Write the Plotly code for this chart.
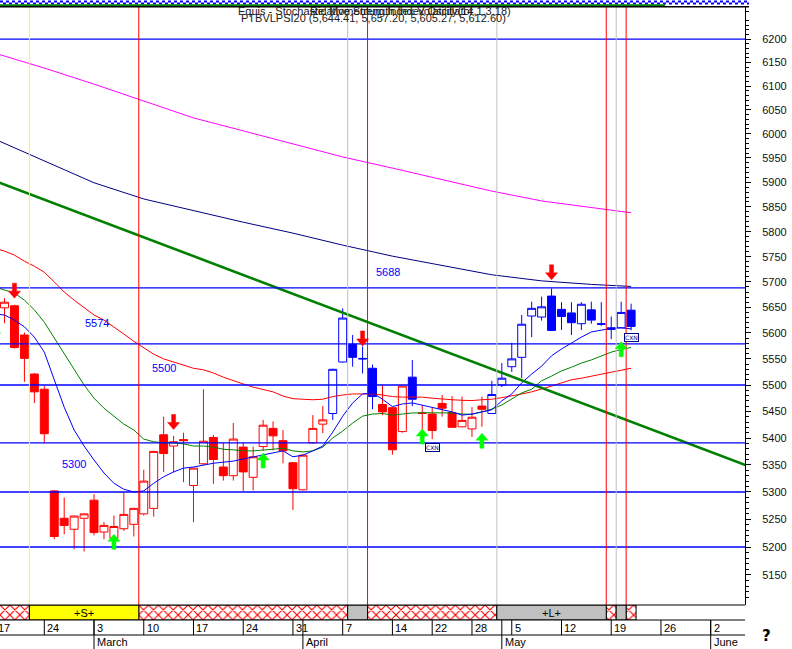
import numpy as np
import pandas as pd
import plotly.graph_objects as go

# ---------------- calendar (trading days, Euronext Lisbon 2003) ----------------
HOLIDAYS = ["2003-04-18", "2003-04-21", "2003-05-01"]
calendar = [d.strftime("%Y-%m-%d") for d in pd.bdate_range("2003-02-17", "2003-06-13")
            if d.strftime("%Y-%m-%d") not in HOLIDAYS]
day_index = {d: k - 5 for k, d in enumerate(calendar)}   # 2003-02-24 -> 0

# ---------------- candles ----------------
candle_dates = [
    "2003-02-18", "2003-02-19", "2003-02-20", "2003-02-21", "2003-02-24", "2003-02-25", "2003-02-26",
    "2003-02-27", "2003-02-28", "2003-03-03", "2003-03-04", "2003-03-05", "2003-03-06", "2003-03-07",
    "2003-03-10", "2003-03-11", "2003-03-12", "2003-03-13", "2003-03-14", "2003-03-17", "2003-03-18",
    "2003-03-19", "2003-03-20", "2003-03-21", "2003-03-24", "2003-03-25", "2003-03-26", "2003-03-27",
    "2003-03-28", "2003-03-31", "2003-04-01", "2003-04-02", "2003-04-03", "2003-04-04", "2003-04-07",
    "2003-04-08", "2003-04-09", "2003-04-10", "2003-04-11", "2003-04-14", "2003-04-15", "2003-04-16",
    "2003-04-17", "2003-04-22", "2003-04-23", "2003-04-24", "2003-04-25", "2003-04-28", "2003-04-29",
    "2003-04-30", "2003-05-02", "2003-05-05", "2003-05-06", "2003-05-07", "2003-05-08", "2003-05-09",
    "2003-05-12", "2003-05-13", "2003-05-14", "2003-05-15", "2003-05-16", "2003-05-19", "2003-05-20",
    "2003-05-21",
]
opens = [5649, 5653, 5596, 5521, 5492, 5302, 5252, 5232, 5252, 5285, 5227, 5216, 5233, 5241,
         5260, 5270, 5406, 5385, 5397, 5312, 5352, 5401, 5346, 5330, 5383, 5327, 5384, 5418,
         5395, 5354, 5304, 5391, 5426, 5446, 5544, 5578, 5551, 5532, 5463, 5457, 5412, 5515,
         5447, 5445, 5465, 5448, 5421, 5417, 5460, 5446, 5500, 5535, 5553, 5633, 5631, 5672,
         5646, 5639, 5618, 5645, 5618, 5610, 5610, 5644.41]
highs = [5668, 5655, 5601, 5523, 5498, 5303, 5290, 5257, 5261, 5296, 5245, 5257, 5299, 5271,
         5341, 5376, 5440, 5404, 5410, 5345, 5492, 5406, 5391, 5428, 5392, 5384, 5434, 5431,
         5415, 5355, 5370, 5443, 5460, 5531, 5648, 5596, 5574, 5539, 5500, 5458, 5499, 5548,
         5462, 5457, 5481, 5479, 5478, 5458, 5478, 5508, 5542, 5581, 5635, 5661, 5671, 5687,
         5660, 5660, 5660, 5661, 5660, 5632, 5661, 5657.20]
lows = [5619, 5570, 5506, 5466, 5390, 5214, 5223, 5196, 5192, 5221, 5214, 5210, 5229, 5219,
        5257, 5255, 5337, 5336, 5318, 5245, 5350, 5315, 5321, 5321, 5302, 5303, 5376, 5377,
        5353, 5267, 5303, 5390, 5409, 5434, 5543, 5535, 5522, 5454, 5443, 5369, 5410, 5460,
        5415, 5398, 5440, 5420, 5420, 5402, 5421, 5446, 5496, 5525, 5513, 5592, 5624, 5604,
        5606, 5596, 5606, 5618, 5614, 5588, 5610, 5605.27]
closes = [5660, 5572, 5551, 5487, 5408, 5219, 5239, 5256, 5260, 5226, 5239, 5237, 5259, 5270,
          5320, 5375, 5371, 5393, 5395, 5344, 5394, 5360, 5330, 5398, 5337, 5365, 5424, 5404,
          5376, 5306, 5368, 5418, 5434, 5530, 5629, 5553, 5550, 5478, 5449, 5378, 5498, 5473,
          5446, 5414, 5456, 5420, 5433, 5439, 5454, 5482, 5513, 5550, 5617, 5648, 5651, 5605,
          5632, 5620, 5656, 5625, 5617, 5607, 5640, 5612.60]
candle_colors = (["red"] * 33 + ["blue"] * 5 + ["red"] * 3 + ["blue"] * 1 +
                 ["red"] * 7 + ["blue"] * 15)

# ---------------- moving averages ----------------
ma_dates = [d for d in calendar if d <= "2003-05-21"]          # Feb 17 .. May 21
ma_short_blue = [5637, 5635, 5625, 5612, 5592, 5563, 5510, 5458, 5415, 5385, 5359, 5335, 5316,
                 5305, 5300, 5302, 5316, 5328, 5337, 5344, 5346, 5350, 5353, 5355, 5357, 5361,
                 5365, 5368, 5372, 5376, 5365, 5368, 5376, 5385, 5411, 5441, 5466, 5483, 5485,
                 5473, 5459, 5464, 5466, 5462, 5457, 5454, 5449, 5443, 5445, 5449, 5453, 5470,
                 5483, 5504, 5521, 5536, 5556, 5569, 5581, 5592, 5602, 5606, 5609, 5610, 5608]
ma_mid_green = [5690, 5684, 5678, 5664, 5645, 5621, 5590, 5559, 5531, 5500, 5475, 5456, 5441,
                5426, 5415, 5398, 5393, 5391, 5391, 5389, 5385, 5385, 5383, 5379, 5378, 5376,
                5376, 5377, 5379, 5381, 5376, 5374, 5376, 5383, 5400, 5413, 5428, 5441, 5445,
                5446, 5443, 5445, 5447, 5447.5, 5447, 5447, 5447, 5445, 5444.5, 5449, 5454.5,
                5462, 5473, 5485, 5492, 5508, 5517, 5527, 5534, 5542, 5548, 5556, 5563, 5568, 5572]
ma_long_red = [5767, 5761, 5753, 5741, 5731, 5719, 5700, 5680, 5664, 5649, 5635, 5625, 5612,
               5598, 5584, 5571, 5559, 5550, 5544, 5538, 5532, 5529, 5523, 5515, 5508, 5502,
               5496, 5492, 5487, 5479, 5474, 5473, 5472, 5473, 5478, 5481, 5483, 5483, 5483,
               5481, 5478, 5477, 5477, 5477, 5475, 5473, 5472, 5471, 5470.5, 5472, 5473, 5476,
               5479, 5483, 5487, 5492, 5498, 5504, 5510, 5513, 5517, 5521, 5525, 5529, 5532]
slow_dates = ["2003-02-17", "2003-02-24", "2003-03-03", "2003-03-10", "2003-03-17", "2003-03-24",
              "2003-03-31", "2003-04-07", "2003-04-14", "2003-04-23", "2003-04-30", "2003-05-08",
              "2003-05-15", "2003-05-21"]
ma_navy = [5989, 5944, 5899, 5866, 5842, 5819, 5797, 5773, 5751, 5733, 5714, 5702, 5695, 5691]
ma_magenta = [6170, 6138, 6104, 6068, 6033, 6006, 5979, 5952, 5929, 5905, 5882, 5862, 5848, 5838]

trend_dates = ["2003-02-17", "2003-06-06"]
trend_prices = [5903, 5346]

# ---------------- annotations / markers ----------------
level_lines = [6200, 5688, 5579, 5500, 5391, 5300, 5200]
level_labels = ["5688", "5574", "5500", "5300"]
level_label_pos = [34.55, 5.3, 12.04, 2.99]          # day index
level_label_price = [5719, 5620, 5532, 5352]

sell_arrow_dates = ["2003-02-19", "2003-03-13", "2003-04-09", "2003-05-09"]
sell_arrow_tips = [5668, 5416, 5575, 5704]
buy_arrow_dates = ["2003-02-17", "2003-03-05", "2003-03-26", "2003-04-17", "2003-04-29", "2003-05-20"]
buy_arrow_tips = [5613, 5223, 5372, 5417, 5409, 5583]

cxn_dates = ["2003-04-22", "2003-05-21"]
cxn_prices = [5390.6, 5600.5]

signal_segments = [("H", "2003-02-17", "2003-02-20"), ("S", "2003-02-21", "2003-03-07"),
                   ("H", "2003-03-10", "2003-04-07"), ("G", "2003-04-08", "2003-04-09"),
                   ("H", "2003-04-10", "2003-04-30"), ("L", "2003-05-02", "2003-05-16"),
                   ("H", "2003-05-19", "2003-05-19"), ("G", "2003-05-20", "2003-05-20"),
                   ("H", "2003-05-21", "2003-05-21")]
signal_text = {"S": "+S+", "L": "+L+"}

week_tick_dates = ["2003-02-17", "2003-02-24", "2003-03-03", "2003-03-10", "2003-03-17",
                   "2003-03-24", "2003-03-31", "2003-04-07", "2003-04-14", "2003-04-22",
                   "2003-04-28", "2003-05-05", "2003-05-12", "2003-05-19", "2003-05-26", "2003-06-02"]
week_tick_labels = ["17", "24", "3", "10", "17", "24", "31", "7", "14", "22", "28", "5", "12",
                    "19", "26", "2"]
month_tick_dates = ["2003-03-03", "2003-04-01", "2003-05-02", "2003-06-02"]
month_tick_labels = ["March", "April", "May", "June"]

y_tick_vals = list(range(5150, 6201, 50))
y_tick_text = [str(v) for v in y_tick_vals]
y_minor_vals = [v for v in range(5100, 6270, 10) if v % 50 != 0]

# ---------------- styling constants ----------------
W, H = 792, 649
XLO, XHI = -4.454, 70.45
PH = 613.0                        # paper height in px
STRIP = 15 / PH
FONT = "Liberation Sans"
RED, BLUE, NAVY = "#FF0000", "#0000FF", "#000080"
col_map = {"red": RED, "blue": BLUE}


def xfrac(idx):
    return (idx - XLO) / (XHI - XLO)


def py(px_from_top):             # pixel row -> paper y (paper top is at page y=7)
    return 1 + (7 - px_from_top) / PH


fig = go.Figure()

# signal strip (bars): hatched segments and solid segments as two bar traces
fill = {"S": "#FFFF00", "G": "#C0C0C0", "L": "#C0C0C0"}
hx, hw, sxs, sws, scs = [], [], [], [], []
for st, d0, d1 in signal_segments:
    a, b = day_index[d0], day_index[d1]
    if st == "H":
        hx.append((a + b) / 2)
        hw.append(b - a + 1)
    else:
        sxs.append((a + b) / 2)
        sws.append(b - a + 1)
        scs.append(fill[st])
fig.add_trace(go.Bar(x=hx, y=[1] * len(hx), base=0, width=hw, xaxis="x", yaxis="y2",
                     marker=dict(color="white", line=dict(color="black", width=1),
                                 pattern=dict(shape="x", fillmode="overlay", fgcolor=RED,
                                              fgopacity=1, size=7, solidity=0.3)),
                     showlegend=False, hoverinfo="skip"))
fig.add_trace(go.Bar(x=sxs, y=[1] * len(sxs), base=0, width=sws, xaxis="x", yaxis="y2",
                     marker=dict(color=scs, line=dict(color="black", width=1)),
                     showlegend=False, hoverinfo="skip"))

# candles
cx = [day_index[d] for d in candle_dates]
for cname in ["red", "blue"]:
    sel = [k for k, c in enumerate(candle_colors) if c == cname]
    col = col_map[cname]
    fig.add_trace(go.Candlestick(
        x=[cx[k] for k in sel], open=[opens[k] for k in sel], high=[highs[k] for k in sel],
        low=[lows[k] for k in sel], close=[closes[k] for k in sel],
        increasing=dict(line=dict(color=col, width=1), fillcolor="white"),
        decreasing=dict(line=dict(color=col, width=1), fillcolor=col),
        whiskerwidth=0, showlegend=False, hoverinfo="skip"))

# moving averages
mx = [day_index[d] for d in ma_dates]
sx = [day_index[d] for d in slow_dates]
for xs, ys, col in [(sx, ma_magenta, "#FF00FF"), (sx, ma_navy, NAVY), (mx, ma_long_red, RED),
                    (mx, ma_mid_green, "#008000"), (mx, ma_short_blue, BLUE)]:
    fig.add_trace(go.Scatter(x=xs, y=ys, mode="lines", line=dict(color=col, width=1),
                             showlegend=False, hoverinfo="skip"))

fig.add_trace(go.Scatter(x=[day_index[d] for d in trend_dates], y=trend_prices, mode="lines",
                         line=dict(color="#008000", width=2.6), showlegend=False, hoverinfo="skip"))

shapes = []
annotations = []

# horizontal level lines
for lv in level_lines:
    shapes.append(dict(type="line", xref="paper", x0=0, x1=1, yref="y", y0=lv, y1=lv,
                       line=dict(color=BLUE, width=1.3), layer="above"))
for t, xi, pv in zip(level_labels, level_label_pos, level_label_price):
    annotations.append(dict(x=xi, y=np.log10(pv), xref="x", yref="y", text=t, showarrow=False,
                            yanchor="middle", font=dict(family=FONT, size=11, color=BLUE)))

# signal vertical lines
line_col = {"S": "#FFFF00", "G": "#C0C0C0", "L": "#C0C0C0", "H": RED}
for k in range(len(signal_segments) - 1):
    b = day_index[signal_segments[k][2]] + 0.5
    shapes.append(dict(type="line", xref="x", x0=b, x1=b, yref="y domain", y0=0, y1=1,
                       line=dict(color=line_col[signal_segments[k + 1][0]], width=1), layer="above"))
for st, d0, d1 in signal_segments:
    if st in signal_text:
        annotations.append(dict(x=(day_index[d0] + day_index[d1]) / 2, y=0.5, xref="x", yref="y2",
                                text=signal_text[st], showarrow=False, yanchor="middle",
                                font=dict(family=FONT, size=11, color="black")))

# arrows
DOWN = "M0,0 L-6,7 L-2,7 L-2,15 L2,15 L2,7 L6,7 Z"
UP = "M0,0 L-6,-7 L-2,-7 L-2,-15 L2,-15 L2,-7 L6,-7 Z"
for d, p in zip(sell_arrow_dates, sell_arrow_tips):
    shapes.append(dict(type="path", xref="x", yref="y", xsizemode="pixel", ysizemode="pixel",
                       xanchor=day_index[d], yanchor=p, path=DOWN, fillcolor=RED,
                       line=dict(color=RED, width=0.5), layer="above"))
for d, p in zip(buy_arrow_dates, buy_arrow_tips):
    shapes.append(dict(type="path", xref="x", yref="y", xsizemode="pixel", ysizemode="pixel",
                       xanchor=day_index[d], yanchor=p, path=UP, fillcolor="#00FF00",
                       line=dict(color="#00FF00", width=0.5), layer="above"))

# CXN flags
for d, p in zip(cxn_dates, cxn_prices):
    xi = day_index[d]
    shapes.append(dict(type="line", xref="x", x0=xi, x1=xi, yref="y", ysizemode="pixel",
                       yanchor=p, y0=-6, y1=-17, line=dict(color=NAVY, width=2), layer="above"))
    annotations.append(dict(x=xi, y=np.log10(p), xref="x", yref="y", text="CXN", showarrow=False,
                            yanchor="top", font=dict(family="DejaVu Sans", size=6, color=NAVY),
                            bordercolor=NAVY, borderwidth=1, borderpad=0, bgcolor="white"))

# strip frame + date axis rows
for yy in [STRIP, 0, -15 / PH]:
    shapes.append(dict(type="line", xref="paper", x0=0, x1=1, yref="paper", y0=yy, y1=yy,
                       line=dict(color="black", width=1)))
for d, lab in zip(week_tick_dates, week_tick_labels):
    xi = day_index[d]
    shapes.append(dict(type="line", xref="x", x0=xi, x1=xi, yref="paper", y0=0, y1=-15 / PH,
                       line=dict(color="black", width=1)))
    annotations.append(dict(x=xfrac(xi), y=-7.5 / PH, xref="paper", yref="paper", text=lab,
                            showarrow=False, xanchor="left", yanchor="middle", xshift=1,
                            font=dict(family=FONT, size=11, color="black")))
for d, lab in zip(month_tick_dates, month_tick_labels):
    xi = day_index[d]
    shapes.append(dict(type="line", xref="x", x0=xi, x1=xi, yref="paper", y0=0, y1=-29 / PH,
                       line=dict(color="black", width=1)))
    annotations.append(dict(x=xfrac(xi), y=-22 / PH, xref="paper", yref="paper", text=lab,
                            showarrow=False, xanchor="left", yanchor="middle", xshift=1,
                            font=dict(family=FONT, size=11, color="black")))
annotations.append(dict(x=767 / 745, y=-16 / PH, xref="paper", yref="paper", text="<b>?</b>",
                        showarrow=False, xanchor="center", yanchor="middle",
                        font=dict(family="DejaVu Sans", size=15, color="black")))

# header decoration
shapes.append(dict(type="line", xref="paper", x0=0, x1=749 / 745, yref="paper", y0=py(1.5), y1=py(1.5),
                   line=dict(color=BLUE, width=2, dash="3px,3px")))
shapes.append(dict(type="line", xref="paper", x0=3 / 745, x1=749 / 745, yref="paper", y0=py(3.5),
                   y1=py(3.5), line=dict(color=BLUE, width=2, dash="3px,3px")))
shapes.append(dict(type="line", xref="paper", x0=0, x1=665 / 745, yref="paper", y0=py(5.2), y1=py(5.2),
                   line=dict(color="#008000", width=2)))
shapes.append(dict(type="line", xref="paper", x0=0, x1=749 / 745, yref="paper", y0=py(6.8), y1=py(6.8),
                   line=dict(color="black", width=1.5)))
annotations.append(dict(x=374 / 745, y=py(11), xref="paper", yref="paper",
                        text="Equis - Stochastic Momentum Index Volatility(14,1,3,18)", showarrow=False,
                        yanchor="middle", font=dict(family=FONT, size=11, color="#202020")))
annotations.append(dict(x=392 / 745, y=py(11), xref="paper", yref="paper",
                        text="Relative Strength Index Oscillator", showarrow=False,
                        yanchor="middle", font=dict(family=FONT, size=11, color="#202020")))
annotations.append(dict(x=373 / 745, y=py(17.5), xref="paper", yref="paper",
                        text=f"PTBVLPSI20 ({opens[-1]:,.2f}, {highs[-1]:,.2f}, {lows[-1]:,.2f}, {closes[-1]:,.2f})",
                        showarrow=False, yanchor="middle", font=dict(family=FONT, size=11, color="#202020")))

fig.update_layout(
    width=W, height=H, margin=dict(l=0, r=47, t=7, b=29),
    paper_bgcolor="white", plot_bgcolor="white", showlegend=False, hovermode=False,
    boxgap=0.2, boxgroupgap=0, barmode="overlay",
    xaxis=dict(range=[XLO, XHI], showticklabels=False, ticks="", showgrid=False, zeroline=False,
               showline=False, rangeslider=dict(visible=False), anchor="y2"),
    yaxis=dict(type="log", side="right", anchor="x", domain=[STRIP, 1],
               range=[np.log10(5096.6), np.log10(6269.2)], showgrid=False, zeroline=False,
               showline=True, linecolor="black", linewidth=1, ticks="outside", ticklen=5,
               tickcolor="black", tickmode="array", tickvals=y_tick_vals, ticktext=y_tick_text,
               tickfont=dict(family=FONT, size=11, color="#111111"), ticklabelstandoff=9,
               minor=dict(tickmode="array", tickvals=y_minor_vals, ticks="outside", ticklen=3,
                          tickcolor="black", showgrid=False)),
    yaxis2=dict(domain=[0, STRIP], range=[0, 1], visible=False, anchor="x"),
    shapes=shapes, annotations=annotations,
)

fig.write_html("out.html", config={"displayModeBar": False},
               post_script="document.body.style.margin='0px';document.body.style.overflow='hidden';")
